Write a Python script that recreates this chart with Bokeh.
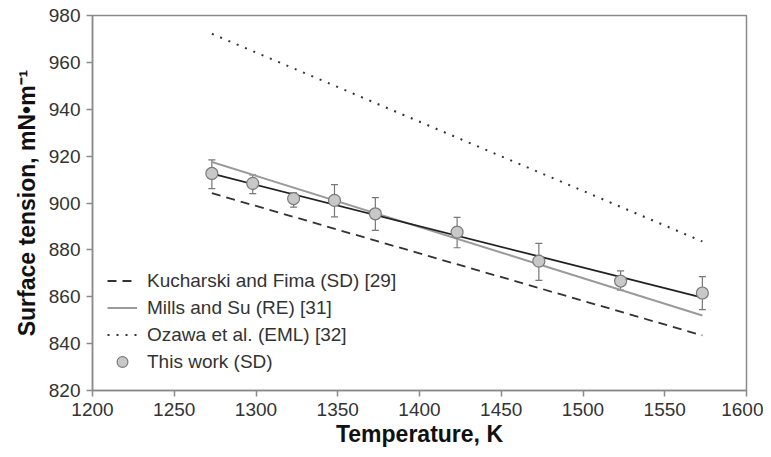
from bokeh.plotting import figure
from bokeh.models import ColumnDataSource, Whisker, TeeHead, Legend, LegendItem, Range1d
from bokeh.embed import file_html
from bokeh.resources import INLINE

# --- data ---
temp_pts = [1273, 1298, 1323, 1348, 1373, 1423, 1473, 1523, 1573]
st_pts = [912.6, 908.4, 901.9, 901.1, 895.4, 887.6, 875.2, 866.7, 861.6]
st_upper = [918.4, 912.0, 904.3, 907.8, 902.3, 893.9, 882.8, 871.0, 868.6]
st_lower = [906.1, 904.0, 898.2, 894.1, 888.3, 880.9, 867.0, 862.8, 854.5]

line_t = [1273, 1573]
kucharski = [904.2, 843.5]
mills = [917.5, 852.0]
ozawa = [972.2, 883.6]
fit_this = [912.5, 859.6]

x_ticks = [1200, 1250, 1300, 1350, 1400, 1450, 1500, 1550, 1600]
y_ticks = [820, 840, 860, 880, 900, 920, 940, 960, 980]

FONT = "Liberation Sans"

p = figure(width=763, height=449, output_backend="svg", toolbar_location=None,
           x_range=Range1d(1200, 1600), y_range=Range1d(820, 980),
           min_border_left=92, min_border_right=17, min_border_top=15, min_border_bottom=57)
p.xgrid.visible = False
p.ygrid.visible = False
p.outline_line_color = "#8a8a8a"
p.outline_line_width = 1.5

src = ColumnDataSource(dict(t=temp_pts, y=st_pts, up=st_upper, lo=st_lower))

r_k = p.line(line_t, kucharski, line_color="#333333", line_width=1.8, line_dash="9 6")
r_m = p.line(line_t, mills, line_color="#9a9a9a", line_width=2)
r_o = p.line(line_t, ozawa, line_color="#333333", line_width=2, line_dash="2 7")
p.line(line_t, fit_this, line_color="#222222", line_width=1.8)

wh = Whisker(source=src, base="t", upper="up", lower="lo", line_color="#777777", line_width=1.2,
             upper_head=TeeHead(size=7, line_color="#777777", line_width=1.2),
             lower_head=TeeHead(size=7, line_color="#777777", line_width=1.2))
p.add_layout(wh)
r_pts = p.scatter("t", "y", source=src, size=12, fill_color="#c8c8c8", line_color="#7a7a7a",
                  line_width=1.2)

for ax in (p.xaxis[0], p.yaxis[0]):
    ax.axis_line_color = "#8a8a8a"
    ax.axis_line_width = 1.5
    ax.major_tick_line_color = "#8a8a8a"
    ax.major_tick_line_width = 1.5
    ax.major_tick_out = 6
    ax.major_tick_in = 0
    ax.minor_tick_line_color = None
    ax.major_label_text_font = FONT
    ax.major_label_text_font_size = "19px"
    ax.major_label_text_color = "#333333"
    ax.axis_label_text_font = FONT
    ax.axis_label_text_font_style = "bold"
    ax.axis_label_text_font_size = "23px"
    ax.axis_label_text_color = "#111111"

p.xaxis.ticker = x_ticks
p.yaxis.ticker = y_ticks
p.xaxis.axis_label = "Temperature, K"
p.yaxis.axis_label = "Surface tension, mN\u2022m\u207b\u00b9"
p.xaxis.axis_label_standoff = 2
p.yaxis.axis_label_standoff = 6
p.xaxis.major_label_standoff = 6
p.yaxis.major_label_standoff = 6

legend = Legend(items=[
    LegendItem(label="Kucharski and Fima (SD) [29]", renderers=[r_k]),
    LegendItem(label="Mills and Su (RE) [31]", renderers=[r_m]),
    LegendItem(label="Ozawa et al. (EML) [32]", renderers=[r_o]),
    LegendItem(label="This work (SD)", renderers=[r_pts]),
], location=(15, 15), border_line_color=None, background_fill_alpha=0,
    label_text_font=FONT, label_text_font_size="19px", label_text_color="#333333",
    glyph_width=30, glyph_height=27, label_height=27, spacing=0, padding=0, margin=0,
    label_standoff=10)
p.add_layout(legend)

open("out.html", "w").write(file_html(p, INLINE))
